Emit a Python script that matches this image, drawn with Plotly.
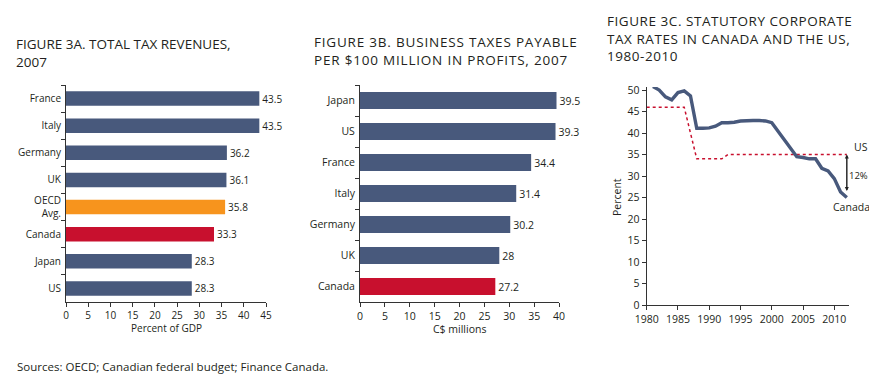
import plotly.graph_objects as go

W, H = 877, 385
OFF = 8  # page body margin in the rendered page

# Figure 3A data
a_countries = ["France", "Italy", "Germany", "UK", "OECD<br>Avg.", "Canada", "Japan", "US"]
a_values = [43.5, 43.5, 36.2, 36.1, 35.8, 33.3, 28.3, 28.3]
a_labels = ["43.5", "43.5", "36.2", "36.1", "35.8", "33.3", "28.3", "28.3"]

# Figure 3B data
b_countries = ["Japan", "US", "France", "Italy", "Germany", "UK", "Canada"]
b_values = [39.5, 39.3, 34.4, 31.4, 30.2, 28.0, 27.2]
b_labels = ["39.5", "39.3", "34.4", "31.4", "30.2", "28", "27.2"]

# Figure 3C data
c_years = list(range(1981, 2013))
c_canada = [50.8, 50.0, 48.4, 47.7, 49.4, 49.8, 48.6, 41.1, 41.1, 41.2, 41.6, 42.4,
            42.4, 42.5, 42.8, 42.9, 42.9, 42.9, 42.8, 42.4, 40.5, 38.4, 36.4, 34.5,
            34.3, 34.0, 34.0, 31.8, 31.2, 29.4, 26.3, 25.0]
us_years = [1980, 1986, 1988, 1992, 1993, 2012]
us_rates = [46, 46, 34, 34, 35, 35]

NAVY = "#48597c"
ORANGE = "#f7941d"
RED = "#c8102e"
TXT = "#231f20"
FONT = "Open Sans"


def fx(px):
    return (px - OFF) / W


def fy(py):
    return 1 - (py - OFF) / H


a_colors = [NAVY] * len(a_countries)
a_colors[4] = ORANGE
a_colors[5] = RED
b_colors = [NAVY] * len(b_countries)
b_colors[-1] = RED

fig = go.Figure()

fig.add_trace(go.Bar(
    x=a_values, y=a_countries, orientation="h", marker_color=a_colors,
    width=0.53, text=a_labels, textposition="outside", cliponaxis=False,
    textfont=dict(size=10, color=TXT, family=FONT), xaxis="x", yaxis="y",
    hoverinfo="x+y"))

fig.add_trace(go.Bar(
    x=b_values, y=b_countries, orientation="h", marker_color=b_colors,
    width=0.55, text=b_labels, textposition="outside", cliponaxis=False,
    textfont=dict(size=10.5, color=TXT, family=FONT), xaxis="x2", yaxis="y2",
    hoverinfo="x+y"))

fig.add_trace(go.Scatter(
    x=us_years, y=us_rates, mode="lines", line=dict(color=RED, width=1.5, dash="dot"),
    xaxis="x3", yaxis="y3", name="US"))

fig.add_trace(go.Scatter(
    x=c_years, y=c_canada, mode="lines", line=dict(color=NAVY, width=3.4),
    xaxis="x3", yaxis="y3", name="Canada"))


def axis_style(size=10):
    return dict(showline=True, linecolor="#333333", linewidth=1, showgrid=False,
                zeroline=False, ticks="outside", ticklen=4, tickcolor="#333333",
                automargin=False, tickfont=dict(size=size, color=TXT, family=FONT))


fig.update_layout(
    template="none",
    width=W, height=H, margin=dict(l=0, r=0, t=0, b=0, pad=0), autosize=False,
    paper_bgcolor="white", plot_bgcolor="white", showlegend=False,
    font=dict(family=FONT, color=TXT),
    xaxis=dict(domain=[fx(66), fx(266)], range=[0, 45], dtick=5, anchor="y", **axis_style()),
    yaxis=dict(domain=[fy(302), fy(85)], autorange="reversed", anchor="x",
               tickson="boundaries", ticklabelstandoff=2, **axis_style()),
    xaxis2=dict(domain=[fx(360), fx(559)], range=[0, 40], dtick=5, anchor="y2",
                **axis_style(10.5)),
    yaxis2=dict(domain=[fy(302), fy(85)], autorange="reversed", anchor="x2",
                tickson="boundaries", ticklabelstandoff=2, **axis_style(10.5)),
    xaxis3=dict(domain=[fx(646.7), fx(848.7)], range=[1980, 2012.3], dtick=5, anchor="y3",
                **axis_style(10.5)),
    yaxis3=dict(domain=[fy(305), fy(87)], range=[0, 50.7], dtick=5, anchor="x3",
                **axis_style(10.5)),
)

ann = []


def text(x, y, s, size=10, xanchor="left", yanchor="middle", **kw):
    ann.append(dict(x=fx(x), y=fy(y), xref="paper", yref="paper", text=s, showarrow=False,
                    xanchor=xanchor, yanchor=yanchor, align="left",
                    font=dict(size=size, color=TXT, family=FONT), **kw))


def spaced(s, px):
    return '<span style="letter-spacing:%.2fpx">%s</span>' % (px, s)


TS = 13.5
text(14, 33, "FIGURE 3A. TOTAL TAX REVENUES,<br>2007", TS, yanchor="top")
text(312, 31, spaced("FIGURE 3B. BUSINESS TAXES PAYABLE", 0.8) + "<br>"
     + spaced("PER $100 MILLION IN PROFITS, 2007", 0.8), TS, yanchor="top")
text(605, 10, spaced("FIGURE 3C. STATUTORY CORPORATE", 0.55) + "<br>"
     + spaced("TAX RATES IN CANADA AND THE US,", 0.55) + "<br>"
     + spaced("1980-2010", 0.55), TS, yanchor="top")

text(166, 328, "Percent of GDP", 10, xanchor="center")
text(460, 329, "C$ millions", 10.5, xanchor="center")
text(617, 197, "Percent", 10.5, xanchor="center", textangle=-90)

text(861, 147, "US", 10.5, xanchor="center")
text(858, 176, "12%", 9.5, xanchor="center")
text(851, 207, "Canada", 10.5, xanchor="center")

text(15, 366, "Sources: OECD; Canadian federal budget; Finance Canada.", 11.5)

# double-headed arrow for the 12% gap
ann.append(dict(x=2012, y=26.5, ax=2012, ay=35, xref="x3", yref="y3", axref="x3", ayref="y3",
                showarrow=True, arrowhead=2, arrowsize=0.8, arrowwidth=1, arrowcolor="#222",
                text=""))
ann.append(dict(x=2012, y=35, ax=2012, ay=26.5, xref="x3", yref="y3", axref="x3", ayref="y3",
                showarrow=True, arrowhead=2, arrowsize=0.8, arrowwidth=1, arrowcolor="#222",
                text=""))

fig.update_layout(annotations=ann)

fig.write_html("out.html")
